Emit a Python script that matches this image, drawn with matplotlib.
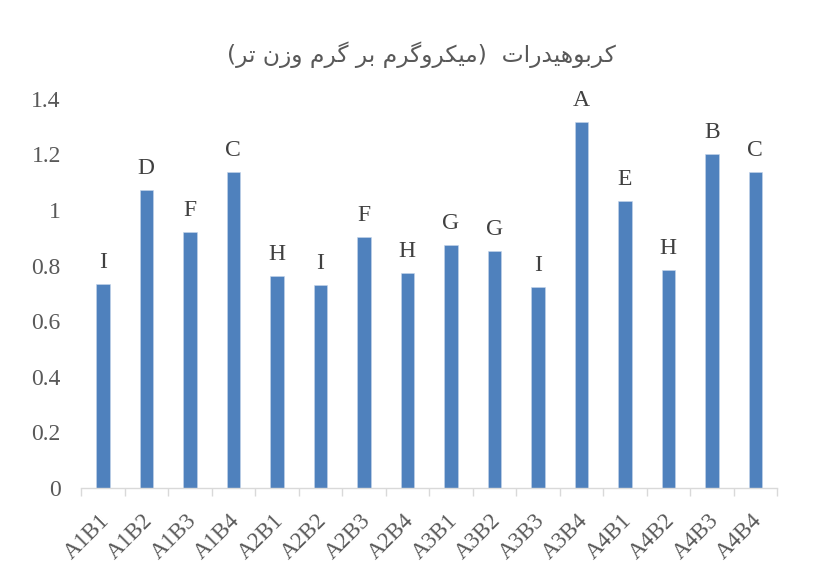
import matplotlib
matplotlib.use("Agg")
import matplotlib.pyplot as plt
import matplotlib.transforms as mtransforms
import numpy as np

# داده ها
treatments = ["A1B1", "A1B2", "A1B3", "A1B4", "A2B1", "A2B2", "A2B3", "A2B4",
              "A3B1", "A3B2", "A3B3", "A3B4", "A4B1", "A4B2", "A4B3", "A4B4"]
carbs = [0.733, 1.073, 0.922, 1.138, 0.761, 0.732, 0.904, 0.774,
         0.874, 0.853, 0.722, 1.315, 1.033, 0.783, 1.203, 1.137]
groups = ["I", "D", "F", "C", "H", "I", "F", "H",
          "G", "G", "I", "A", "E", "H", "B", "C"]
yticks = [0, 0.2, 0.4, 0.6, 0.8, 1, 1.2, 1.4]
title = "کربوهیدرات  (میکروگرم بر گرم وزن تر)"

# شکل دهی ساده حروف فارسی (isolated, final, initial, medial)
forms = {
    "\u0627": ("\uFE8D", "\uFE8E", None, None),
    "\u0628": ("\uFE8F", "\uFE90", "\uFE91", "\uFE92"),
    "\u062A": ("\uFE95", "\uFE96", "\uFE97", "\uFE98"),
    "\u062F": ("\uFEA9", "\uFEAA", None, None),
    "\u0631": ("\uFEAD", "\uFEAE", None, None),
    "\u0632": ("\uFEAF", "\uFEB0", None, None),
    "\u0645": ("\uFEE1", "\uFEE2", "\uFEE3", "\uFEE4"),
    "\u0646": ("\uFEE5", "\uFEE6", "\uFEE7", "\uFEE8"),
    "\u0647": ("\uFEE9", "\uFEEA", "\uFEEB", "\uFEEC"),
    "\u0648": ("\uFEED", "\uFEEE", None, None),
    "\u06CC": ("\uFBFC", "\uFBFD", "\uFBFE", "\uFBFF"),
    "\u06A9": ("\uFB8E", "\uFB8F", "\uFB90", "\uFB91"),
    "\u06AF": ("\uFB92", "\uFB93", "\uFB94", "\uFB95"),
}


def shape_fa(s):
    out = []
    for i, ch in enumerate(s):
        if ch not in forms:
            out.append(ch)
            continue
        prev = s[i - 1] if i > 0 else ""
        nxt = s[i + 1] if i + 1 < len(s) else ""
        jp = prev in forms and forms[prev][2] is not None
        jn = forms[ch][2] is not None and nxt in forms
        if jp and jn:
            out.append(forms[ch][3])
        elif jp:
            out.append(forms[ch][1])
        elif jn:
            out.append(forms[ch][2])
        else:
            out.append(forms[ch][0])
    vis = "".join(out)[::-1]
    return vis.translate(str.maketrans("()", ")("))


plt.rcParams['font.family'] = ['Liberation Serif', 'DejaVu Sans']
grey = "#595959"

fig = plt.figure(figsize=(8.15, 5.81), dpi=100)
ax = fig.add_axes([0.0994, 0.160, 0.8540, 0.670])

x = np.arange(len(treatments))
ax.bar(x, carbs, width=0.31, color="#4F81BD", edgecolor="#c5d5ea", linewidth=0.4)

for xi, v, g in zip(x, carbs, groups):
    ax.annotate(g, (xi, v), xytext=(0, 11.5), textcoords="offset points",
                ha="center", va="baseline", fontsize=17, color="#404040")

ax.set_ylim(0, 1.4)
ax.set_xlim(-0.5, len(treatments) - 0.5)
ax.set_yticks(yticks)
ax.set_yticklabels([f"{t:g}" for t in yticks], fontsize=17, color=grey)
ax.tick_params(axis="y", length=0, pad=14.5)

ax.set_xticks(x)
ax.set_xticklabels(treatments, rotation=45, ha="right", rotation_mode="anchor",
                   fontsize=16.5, color=grey)
ax.tick_params(axis="x", which="major", length=0, pad=16)
shift = mtransforms.ScaledTranslation(-4 / 100, 0, fig.dpi_scale_trans)
for lab in ax.get_xticklabels():
    lab.set_transform(lab.get_transform() + shift)
ax.set_xticks(np.arange(-0.5, len(treatments)), minor=True)
ax.tick_params(axis="x", which="minor", length=6, color="#d9d9d9", width=1)

for s in ["left", "right", "top"]:
    ax.spines[s].set_visible(False)
ax.spines["bottom"].set_color("#d9d9d9")
ax.spines["bottom"].set_linewidth(1)

fig.text(421 / 815, 1 - 55 / 581, shape_fa(title), ha="center", va="center",
         fontsize=16.8, color=grey, family="DejaVu Sans")

fig.savefig("out.png", dpi=100)
